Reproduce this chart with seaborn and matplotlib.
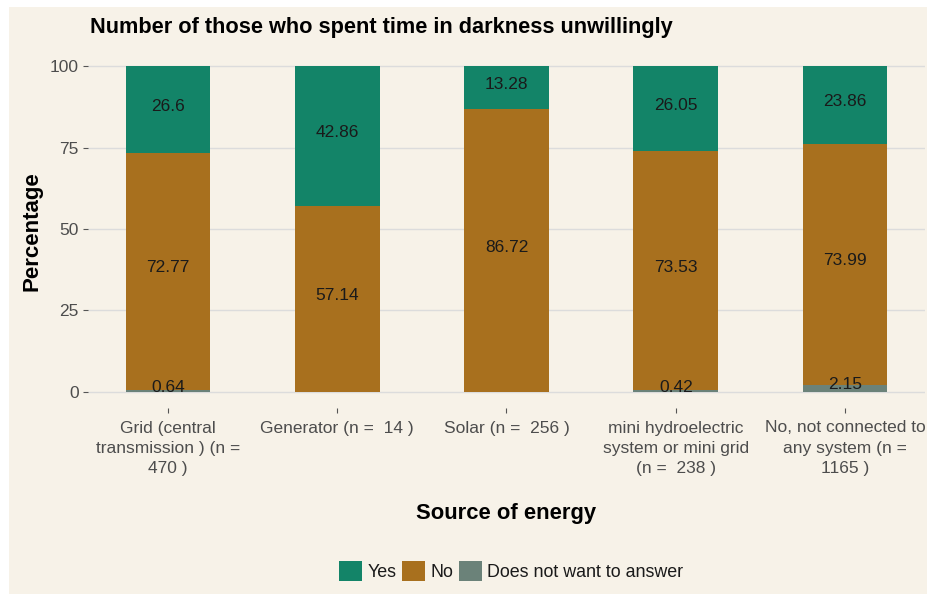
import matplotlib
matplotlib.use("Agg")
import matplotlib.pyplot as plt
from matplotlib.patches import Rectangle, Patch
import pandas as pd
import seaborn as sns

# Survey results by source of energy (percent of respondents)
sources = [
    "Grid (central\ntransmission ) (n =\n470 )",
    "Generator (n =  14 )",
    "Solar (n =  256 )",
    "mini hydroelectric\nsystem or mini grid\n(n =  238 )",
    "No, not connected to\nany system (n =\n1165 )",
]
yes = [26.6, 42.86, 13.28, 26.05, 23.86]
no = [72.77, 57.14, 86.72, 73.53, 73.99]
no_answer = [0.64, 0.0, 0.0, 0.42, 2.15]
responses = ["Yes", "No", "Does not want to answer"]
palette = {"Yes": "#138468", "No": "#A8701E", "Does not want to answer": "#6B8279"}

BG = "#F7F2E8"
TXT = "#4D4D4D"

sns.set_theme(style="white")
plt.rcParams["font.family"] = ["Liberation Sans", "DejaVu Sans"]

df = pd.DataFrame({"source": sources, "Yes": yes, "No": no,
                   "Does not want to answer": no_answer})
# stacked tops: answer refusals at the bottom, then No, then Yes
df["top_dna"] = df["Does not want to answer"]
df["top_no"] = df["top_dna"] + df["No"]
df["top_yes"] = df["top_no"] + df["Yes"]

fig = plt.figure(figsize=(9.27, 5.95), dpi=100, facecolor="white")
fig.patches.append(Rectangle((9 / 927, 1 / 595), 1, 587 / 595,
                             transform=fig.transFigure, facecolor=BG,
                             edgecolor="none", zorder=-10))
ax = fig.add_axes([88 / 927, 187 / 595, 837 / 927, 358 / 595])
ax.set_facecolor(BG)

for level, col in [("Yes", "top_yes"), ("No", "top_no"),
                   ("Does not want to answer", "top_dna")]:
    sns.barplot(data=df, x="source", y=col, color=palette[level], width=0.5,
                saturation=1, linewidth=0, edgecolor="none", ax=ax, zorder=2)

# segment value labels at the middle of each segment
for i, row in df.iterrows():
    segs = [("Does not want to answer", 0.0), ("No", row["top_dna"]),
            ("Yes", row["top_no"])]
    for level, base in segs:
        v = row[level]
        if v > 0:
            ax.annotate(f"{v:g}", xy=(i, base + v / 2), xytext=(0, 2.5),
                        textcoords="offset points", ha="center", va="center",
                        fontsize=12.5, color="#1a1a1a", zorder=3)

ax.set_xlim(-0.472, 4.472)
ax.set_ylim(-5, 105)
ax.set_yticks([0, 25, 50, 75, 100])
ax.set_yticklabels(["0", "25", "50", "75", "100"])
ax.set_xlabel("")
ax.set_ylabel("")
ax.tick_params(axis="both", which="both", length=3.5, width=0.8, color="#555555",
               labelcolor=TXT, labelsize=12.5, pad=3,
               bottom=True, left=True)
ax.tick_params(axis="x", pad=5.5)
for lab in ax.get_xticklabels():
    lab.set_linespacing(1.45)
for s in ax.spines.values():
    s.set_visible(False)
ax.yaxis.grid(True, color="#DCDCDC", linewidth=1)
ax.xaxis.grid(False)
ax.set_axisbelow(True)

fig.text(90 / 927, 1 - 28 / 595, "Number of those who spent time in darkness unwillingly",
         fontsize=15.7, fontweight="bold", color="black", ha="left", va="center")
fig.text(32 / 927, 1 - 231 / 595, "Percentage", rotation=90, fontsize=16,
         fontweight="bold", color="black", ha="center", va="center")
fig.text(506 / 927, 1 - 513 / 595, "Source of energy", fontsize=15.8,
         fontweight="bold", color="black", ha="center", va="center")

handles = [Patch(facecolor=palette[r], edgecolor="none", label=r) for r in responses]
fig.legend(handles=handles, loc="center", bbox_to_anchor=(511 / 927, 1 - 571 / 595),
           ncol=3, frameon=False, fontsize=12.9, handlelength=1.3, handleheight=1.3,
           handletextpad=0.3, columnspacing=0.3, labelcolor="#1a1a1a")

fig.savefig("out.png", dpi=100, facecolor=fig.get_facecolor())
